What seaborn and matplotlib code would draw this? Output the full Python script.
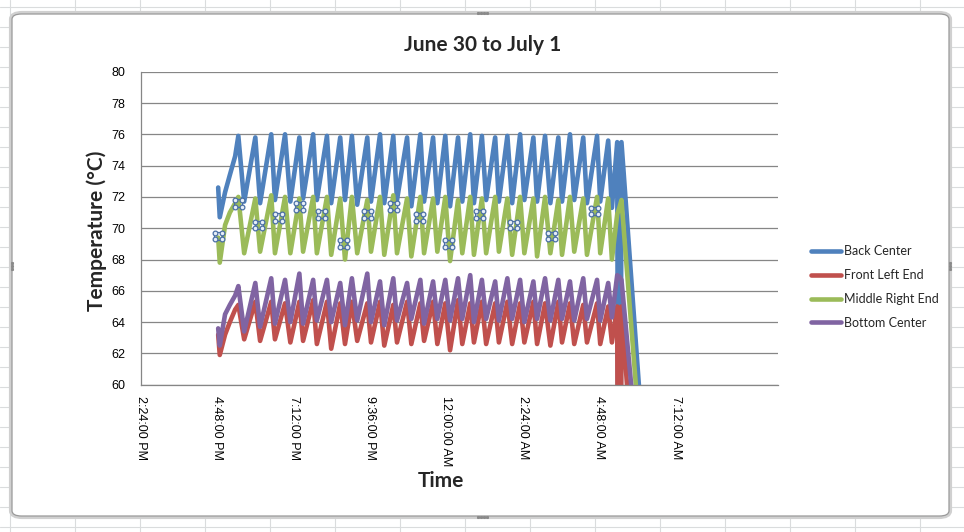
import matplotlib
matplotlib.use("Agg")
import numpy as np
import pandas as pd
import matplotlib.pyplot as plt
import matplotlib.transforms as mtransforms
from matplotlib.patches import FancyBboxPatch
from matplotlib.lines import Line2D
from matplotlib.ticker import FixedLocator, FuncFormatter
import matplotlib.dates as mdates
import seaborn as sns

# ---------------- data ----------------
start_time = "2011-06-30 16:50"          # first logged sample
series_names = ["Back Center", "Front Left End", "Middle Right End", "Bottom Center"]
series_colors = ["#4F81BD", "#C0504D", "#9BBB59", "#8064A2"]

# minutes after start_time
warmup_min = [0, 3, 13, 22, 32]
peak_min = [38, 70, 100, 126, 153, 179, 205, 230, 252, 281, 305, 330, 356, 381, 405,
            428, 452, 475, 497, 522, 545, 569, 594, 616, 641, 663, 688, 714, 735, 752]
trough_min = [49, 79, 107, 136, 160, 186, 213, 239, 262, 288, 313, 337, 364, 388, 413,
              437, 460, 482, 505, 529, 554, 577, 601, 626, 648, 671, 695, 720, 742]
shutdown_min = [756, 760, 833]

back_warmup = [72.6, 70.7, 72.3, 73.4, 74.6]
back_peaks = [75.9, 75.8, 76.0, 76.0, 75.8, 76.0, 75.9, 75.8, 75.9, 75.8, 76.0, 75.9, 75.8, 76.0, 75.8,
              75.9, 75.8, 76.0, 75.9, 75.8, 75.9, 76.0, 75.8, 75.9, 75.8, 76.0, 75.8, 75.9, 75.6, 75.5]
back_troughs = [71.7, 71.6, 71.8, 71.7, 71.9, 71.8, 71.6, 71.8, 71.5, 71.7, 71.6, 71.8, 71.4, 71.7, 71.6,
                71.4, 71.7, 71.6, 71.8, 71.7, 71.6, 71.8, 71.7, 71.6, 71.7, 71.8, 71.6, 71.7, 71.3]
back_shutdown = [20.0, 75.5, 41.0]

front_warmup = [63.2, 61.9, 63.2, 64.0, 64.8]
front_peaks = [65.1, 65.3, 65.3, 65.2, 65.3, 65.4, 65.3, 65.2, 65.3, 65.2, 65.3, 65.1, 65.3, 65.2, 65.3,
               65.2, 65.4, 65.2, 65.3, 65.2, 65.3, 65.2, 65.3, 65.2, 65.3, 65.2, 65.1, 65.2, 65.0, 65.0]
front_troughs = [62.9, 62.8, 62.9, 62.7, 62.8, 62.6, 62.3, 62.6, 62.8, 62.7, 62.5, 62.7, 62.6, 62.8, 62.6,
                 62.2, 62.6, 62.7, 62.6, 62.7, 62.6, 62.7, 62.6, 62.5, 62.7, 62.6, 62.7, 62.6, 62.7]
front_shutdown = [20.0, 65.0, 30.0]

middle_warmup = [69.4, 67.8, 70.2, 71.0, 71.6]
middle_peaks = [72.0, 71.9, 72.1, 72.0, 71.9, 72.0, 72.0, 71.9, 72.0, 71.8, 72.0, 72.1, 71.9, 72.0, 71.9,
                72.0, 71.8, 72.0, 71.9, 72.0, 71.9, 72.0, 71.9, 72.0, 71.8, 72.0, 71.9, 72.0, 71.9, 70.9]
middle_troughs = [68.4, 68.5, 68.4, 68.4, 68.5, 68.4, 68.3, 68.0, 68.4, 68.5, 68.3, 68.4, 68.2, 68.4, 68.5,
                  67.9, 68.4, 68.3, 68.4, 68.5, 68.3, 68.4, 68.2, 68.4, 68.3, 68.5, 68.3, 68.4, 68.0]
middle_shutdown = [71.3, 71.8, 40.0]

bottom_warmup = [63.6, 62.5, 64.5, 65.1, 65.7]
bottom_peaks = [66.3, 66.5, 66.8, 66.7, 67.1, 66.7, 66.7, 66.5, 66.8, 67.1, 66.6, 66.8, 66.5, 66.7, 66.6,
                66.7, 66.8, 67.0, 66.7, 66.6, 66.8, 66.7, 66.6, 66.8, 66.7, 66.6, 66.8, 66.7, 66.5, 67.0]
bottom_troughs = [63.4, 63.7, 63.9, 64.0, 63.9, 64.1, 64.0, 63.8, 64.1, 64.0, 63.8, 64.1, 64.2, 63.9, 64.2,
                  64.1, 64.2, 64.0, 64.2, 64.1, 64.2, 64.0, 64.2, 64.1, 64.2, 64.1, 64.2, 64.1, 64.3]
bottom_shutdown = [66.9, 66.7, 40.0]

# Excel selection handles shown on the "Middle Right End" series
handle_min = [0, 38, 76, 114, 153, 194, 236, 282, 330, 379, 434, 492, 556, 628, 709]
handle_val = [69.5, 71.6, 70.2, 70.7, 71.4, 70.9, 69.0, 70.9, 71.4, 70.7, 69.0, 70.9, 70.2, 69.5, 71.1]

axis_start = "2011-06-30 14:24"
axis_end = "2011-07-01 10:25"
tick_times = ["2011-06-30 14:24", "2011-06-30 16:48", "2011-06-30 19:12", "2011-06-30 21:36",
              "2011-07-01 00:00", "2011-07-01 02:24", "2011-07-01 04:48", "2011-07-01 07:12"]
y_ticks = [60, 62, 64, 66, 68, 70, 72, 74, 76, 78, 80]


def assemble(warm, peaks, troughs, shut):
    seq = list(warm)
    for i, p in enumerate(peaks):
        seq.append(p)
        if i < len(troughs):
            seq.append(troughs[i])
    return seq + list(shut)


minutes = assemble(warmup_min, peak_min, trough_min, shutdown_min)
t0 = pd.Timestamp(start_time)
times = [t0 + pd.Timedelta(minutes=m) for m in minutes]

values = {
    "Back Center": assemble(back_warmup, back_peaks, back_troughs, back_shutdown),
    "Front Left End": assemble(front_warmup, front_peaks, front_troughs, front_shutdown),
    "Middle Right End": assemble(middle_warmup, middle_peaks, middle_troughs, middle_shutdown),
    "Bottom Center": assemble(bottom_warmup, bottom_peaks, bottom_troughs, bottom_shutdown),
}
frames = [pd.DataFrame({"Time": times, "Temperature": v, "Series": k}) for k, v in values.items()]
df = pd.concat(frames, ignore_index=True)

# ---------------- figure ----------------
sns.set_style("white")
plt.rcParams["font.family"] = ["Liberation Sans", "DejaVu Sans"]

W, H = 964, 532
fig = plt.figure(figsize=(W / 100, H / 100), dpi=100)
fig.patch.set_facecolor("white")

def px(x, y):
    return (x / W, 1 - y / H)

# spreadsheet cell grid behind the chart
for yy in range(7, H, 20):
    fig.add_artist(Line2D([0, 1], [1 - yy / H] * 2, color="#dadcdd", lw=0.8, zorder=0))
for xx in range(10, W, 65):
    fig.add_artist(Line2D([xx / W] * 2, [0, 1], color="#dadcdd", lw=0.8, zorder=0))

# chart area frame
outer = FancyBboxPatch(px(11, 517), (950 - 11) / W, (517 - 13) / H,
                       boxstyle="round,pad=0,rounding_size=0.012",
                       transform=fig.transFigure, facecolor="white",
                       edgecolor="#d0d0d0", lw=3.0, zorder=1)
fig.add_artist(outer)
inner = FancyBboxPatch(px(12, 516), (949 - 12) / W, (516 - 14) / H,
                       boxstyle="round,pad=0,rounding_size=0.01",
                       transform=fig.transFigure, facecolor="white",
                       edgecolor="#9a9a9a", lw=0.9, zorder=1.1)
fig.add_artist(inner)
# small grips on the frame
for gx, gy in [(483, 13), (483, 517)]:
    for k in range(4):
        fig.add_artist(Line2D([(gx - 5 + 3 * k) / W], [1 - gy / H], marker="s", ms=1.2,
                              color="#8a8a8a", lw=0, zorder=2))
for gx, gy in [(12, 266), (950, 266)]:
    for k in range(3):
        fig.add_artist(Line2D([gx / W], [1 - (gy - 3 + 3 * k) / H], marker="s", ms=1.2,
                              color="#8a8a8a", lw=0, zorder=2))

left, right, top, bottom = 140.7, 778, 71.7, 384.7
ax = fig.add_axes([left / W, 1 - bottom / H, (right - left) / W, (bottom - top) / H], zorder=3)
ax.set_facecolor("none")

sns.lineplot(data=df, x="Time", y="Temperature", hue="Series", hue_order=series_names,
             palette=series_colors, estimator=None, sort=False, lw=3.3, ax=ax, legend=True)

# selection handles on the Middle Right End series
h_times = [t0 + pd.Timedelta(minutes=m) for m in handle_min]
h_x = mdates.date2num(h_times)
ax.plot(h_x, handle_val, ls="none", marker="s", ms=5.4, mfc="none", mec="#4A6FA5",
        mew=0.9, zorder=5)
for dx in (-3.4, 3.4):
    for dy in (-3.4, 3.4):
        tr = mtransforms.offset_copy(ax.transData, fig=fig, x=dx, y=dy, units="dots")
        ax.plot(h_x, handle_val, ls="none", marker="o", ms=3.4, mfc="#E6EEF8",
                mec="#4A6FA5", mew=0.9, transform=tr, zorder=6)

ax.set_xlim(mdates.date2num(pd.Timestamp(axis_start)), mdates.date2num(pd.Timestamp(axis_end)))
ax.set_ylim(60, 80)
ax.set_yticks(y_ticks)
ax.xaxis.set_major_locator(FixedLocator(mdates.date2num([pd.Timestamp(t) for t in tick_times])))
ax.xaxis.set_major_formatter(FuncFormatter(
    lambda v, pos: mdates.num2date(v).strftime("%I:%M:%S %p").lstrip("0")))
ax.grid(axis="y", color="#868686", lw=0.9)
ax.grid(axis="x", visible=False)
ax.set_axisbelow(True)
for s in ["top", "right"]:
    ax.spines[s].set_visible(False)
for s in ["left", "bottom"]:
    ax.spines[s].set_color("#868686")
    ax.spines[s].set_linewidth(0.9)
ax.tick_params(axis="both", direction="out", length=5, width=0.9, color="#868686",
               labelsize=9, labelcolor="black")
ax.tick_params(axis="y", pad=6)
ax.tick_params(axis="x", pad=3)
for lab in ax.get_xticklabels():
    lab.set_rotation(270)
    lab.set_ha("center")
    lab.set_va("top")
ax.set_xlabel("")
ax.set_ylabel("")

handles, labels = ax.get_legend_handles_labels()
ax.legend(handles, labels, loc="center left", bbox_to_anchor=px(811, 287),
          bbox_transform=fig.transFigure, frameon=False,
          prop={"family": ["Lato", "DejaVu Sans"], "size": 9},
          handlelength=2.4, handletextpad=0.2, labelspacing=0.95,
          borderpad=0, borderaxespad=0)

fig.text(*px(483, 45), "June 30 to July 1", ha="center", va="center",
         fontsize=15, fontweight="bold", family=["Lato", "DejaVu Sans"])
fig.text(*px(97, 231), "Temperature (°C)", ha="center", va="center", rotation=90,
         fontsize=15, fontweight="bold", family=["Lato", "DejaVu Sans"])
fig.text(*px(441, 481), "Time", ha="center", va="center",
         fontsize=15, fontweight="bold", family=["Lato", "DejaVu Sans"])

fig.savefig("out.png", dpi=100, facecolor="white")
